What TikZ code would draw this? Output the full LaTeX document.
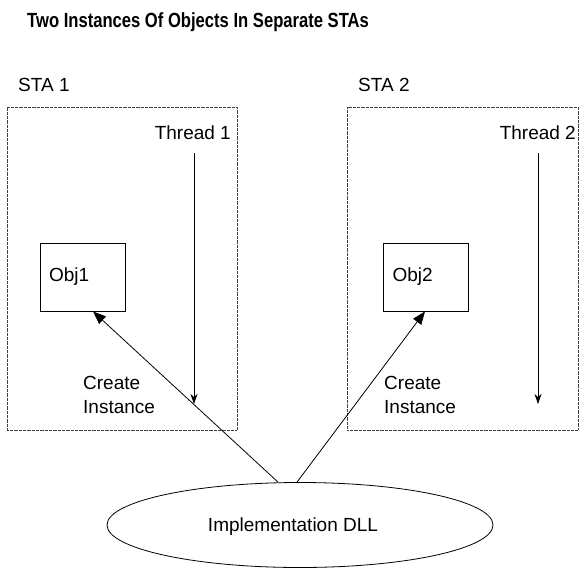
\documentclass[tikz,border=0pt]{standalone}
\usepackage{fontspec}
\setmainfont{Liberation Sans}
\usetikzlibrary{arrows.meta,shapes.geometric}

\begin{document}
\begin{tikzpicture}[x=1pt, y=-1pt,
                    every node/.style={font=\fontsize{19}{24}\selectfont, inner sep=0pt},
                    sta_style/.style={draw=black!75, line width=0.6pt, dash pattern=on 0.6pt off 0.7pt, minimum height=323pt},
                    obj_style/.style={draw, line width=0.8pt, minimum height=68pt, text width=67pt, inner xsep=9pt, align=left},
                    thread_style/.style={draw, line width=0.8pt, -{Stealth[length=10pt, width=7pt, inset=3pt]}},
                    create_style/.style={draw, line width=0.8pt, -{Triangle[length=13pt, width=10pt]}}]
                    \useasboundingbox (0, 0) rectangle (588, 583);
                    \node[anchor=west, font=\fontsize{20.5}{24}\selectfont\bfseries] (title) at (27, 22) {\scalebox{0.81}[1]{Two Instances Of Objects In Separate STAs}};
                    \node[anchor=west] (l1) at (18, 85) {STA 1};
                    \node[anchor=west] (l2) at (358, 85) {STA 2};
                    \node[sta_style, minimum width=230pt] (sta1) at (122, 268.5) {};
                    \node[sta_style, minimum width=231pt] (sta2) at (462.5, 268.5) {};
                    \node[anchor=east] (t1) at (231, 133) {Thread 1};
                    \node[anchor=east] (t2) at (576, 133) {Thread 2};
                    \coordinate (t1a) at (194, 153);
                    \coordinate (t1b) at (194, 404);
                    \coordinate (t2a) at (538, 153);
                    \coordinate (t2b) at (538, 404);
                    \node[obj_style] (obj1) at (82.5, 277) {Obj1};
                    \node[obj_style] (obj2) at (426, 277) {Obj2};
                    \node[anchor=west, align=left] (c1) at (83, 395) {Create\\Instance};
                    \node[anchor=west, align=left] (c2) at (384, 395) {Create\\Instance};
                    \node[ellipse, draw, line width=0.8pt, minimum width=386pt, minimum height=85pt, text depth=0pt] (dll) at (300, 525) {\hspace*{-14pt}Implementation DLL};
                    \draw[thread_style] (t1a) -- (t1b);
                    \draw[thread_style] (t2a) -- (t2b);
                    \draw[create_style] ([xshift=-22pt]dll.north) -- ([xshift=10.5pt]obj1.south);
                    \draw[create_style] ([xshift=-3pt]dll.north) -- ([xshift=-1pt]obj2.south);
                \end{tikzpicture}
\end{document}
